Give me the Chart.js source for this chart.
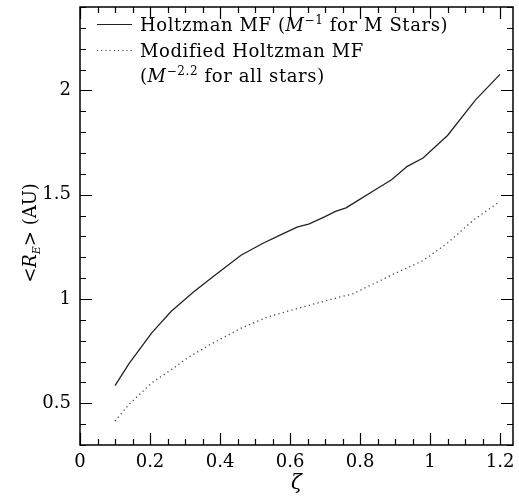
<!DOCTYPE html>
<html>
<head>
<meta charset="utf-8">
<script src="https://cdn.jsdelivr.net/npm/chart.js@4.4.0/dist/chart.umd.min.js"></script>
<style>
  html, body { margin: 0; padding: 0; background: #fff; }
</style>
</head>
<body>
<canvas id="myChart" width="519" height="496"></canvas>
<script>
// Einstein radius vs zeta, two mass functions
const zetaHoltzman = [0.10, 0.14, 0.205, 0.26, 0.325, 0.39, 0.46, 0.52, 0.57, 0.62, 0.655, 0.70, 0.73, 0.76, 0.79, 0.84, 0.89, 0.935, 0.98, 1.05, 1.13, 1.20];
const reHoltzman = [0.585, 0.69, 0.838, 0.94, 1.035, 1.12, 1.21, 1.265, 1.305, 1.345, 1.36, 1.395, 1.42, 1.437, 1.468, 1.52, 1.572, 1.636, 1.676, 1.784, 1.955, 2.077];

const zetaModified = [0.10, 0.14, 0.205, 0.26, 0.305, 0.37, 0.46, 0.53, 0.58, 0.655, 0.72, 0.78, 0.81, 0.86, 0.89, 0.98, 1.05, 1.125, 1.20];
const reModified = [0.415, 0.495, 0.598, 0.66, 0.715, 0.78, 0.86, 0.91, 0.935, 0.97, 1.0, 1.025, 1.05, 1.09, 1.115, 1.184, 1.268, 1.38, 1.468];

const xMajor = [0, 0.2, 0.4, 0.6, 0.8, 1, 1.2];
const xMinor = [0.05, 0.1, 0.15, 0.25, 0.3, 0.35, 0.45, 0.5, 0.55, 0.65, 0.7, 0.75, 0.85, 0.9, 0.95, 1.05, 1.1, 1.15];
const yMajor = [0.5, 1, 1.5, 2];
const yMinor = [0.3, 0.4, 0.6, 0.7, 0.8, 0.9, 1.1, 1.2, 1.3, 1.4, 1.6, 1.7, 1.8, 1.9, 2.1, 2.2, 2.3, 2.4];

const FONT = '"DejaVu Serif", serif';

const toPoints = (xs, ys) => xs.map((v, i) => ({ x: v, y: ys[i] }));

// draw a row of text pieces (normal / italic / superscript) and return the end x
function drawRuns(ctx, x, y, runs) {
  runs.forEach((r) => {
    ctx.font = r.font;
    ctx.fillText(r.t, x, y + (r.dy || 0));
    x += ctx.measureText(r.t).width;
  });
  return x;
}
function runsWidth(ctx, runs) {
  let w = 0;
  runs.forEach((r) => { ctx.font = r.font; w += ctx.measureText(r.t).width; });
  return w;
}

const normal = '18px ' + FONT;
const italic = 'italic 18px ' + FONT;
const sup = '12px ' + FONT;

const framePlugin = {
  id: 'frame',
  afterDraw(chart) {
    const { ctx, chartArea: a, scales: { x, y } } = chart;
    ctx.save();
    ctx.strokeStyle = '#000';
    ctx.lineWidth = 1.5;
    ctx.strokeRect(a.left, a.top, a.right - a.left, a.bottom - a.top);

    ctx.lineWidth = 1.2;
    ctx.beginPath();
    const tickX = (v, len) => {
      const px = Math.round(x.getPixelForValue(v)) + 0.5;
      ctx.moveTo(px, a.bottom); ctx.lineTo(px, a.bottom - len);
      ctx.moveTo(px, a.top); ctx.lineTo(px, a.top + len);
    };
    const tickY = (v, len) => {
      const py = Math.round(y.getPixelForValue(v)) + 0.5;
      ctx.moveTo(a.left, py); ctx.lineTo(a.left + len, py);
      ctx.moveTo(a.right, py); ctx.lineTo(a.right - len, py);
    };
    xMajor.forEach((v) => tickX(v, 12));
    xMinor.forEach((v) => tickX(v, 6));
    yMajor.forEach((v) => tickY(v, 12));
    yMinor.forEach((v) => tickY(v, 6));
    ctx.stroke();

    // legend
    ctx.fillStyle = '#000';
    ctx.textBaseline = 'alphabetic';
    ctx.letterSpacing = '0.6px';
    ctx.lineWidth = 1.2;
    ctx.strokeStyle = '#222';
    ctx.beginPath();
    ctx.moveTo(97, 24.5); ctx.lineTo(132, 24.5);
    ctx.stroke();
    ctx.setLineDash([1.2, 3]);
    ctx.strokeStyle = '#444';
    ctx.beginPath();
    ctx.moveTo(97, 50.5); ctx.lineTo(132, 50.5);
    ctx.stroke();
    ctx.setLineDash([]);

    drawRuns(ctx, 140, 31, [
      { t: 'Holtzman MF (', font: normal },
      { t: 'M', font: italic },
      { t: '\u22121', font: sup, dy: -7 },
      { t: ' for M Stars)', font: normal },
    ]);
    drawRuns(ctx, 140, 57, [{ t: 'Modified Holtzman MF', font: normal }]);
    drawRuns(ctx, 140, 82, [
      { t: '(', font: normal },
      { t: 'M', font: italic },
      { t: '\u22122.2', font: sup, dy: -7 },
      { t: ' for all stars)', font: normal },
    ]);
    ctx.letterSpacing = '0px';

    // x axis title
    ctx.font = 'italic 20px ' + FONT;
    ctx.textAlign = 'center';
    ctx.fillText('\u03B6', (a.left + a.right) / 2, 489);

    // y axis title
    ctx.textAlign = 'left';
    const yTitle = [
      { t: '<', font: normal },
      { t: 'R', font: italic },
      { t: 'E', font: 'italic 11px ' + FONT, dy: 4 },
      { t: '> (AU)', font: normal },
    ];
    ctx.translate(36, 233);
    ctx.rotate(-Math.PI / 2);
    drawRuns(ctx, -runsWidth(ctx, yTitle) / 2, 0, yTitle);
    ctx.restore();
  },
};

new Chart(document.getElementById('myChart'), {
  type: 'line',
  data: {
    datasets: [
      {
        label: 'Holtzman MF',
        data: toPoints(zetaHoltzman, reHoltzman),
        borderColor: '#222',
        borderWidth: 1.3,
        pointRadius: 0,
        tension: 0,
      },
      {
        label: 'Modified Holtzman MF',
        data: toPoints(zetaModified, reModified),
        borderColor: '#444',
        borderWidth: 1.3,
        borderDash: [1.2, 3.3],
        pointRadius: 0,
        tension: 0,
      },
    ],
  },
  options: {
    responsive: false,
    animation: false,
    layout: { padding: { top: 7, right: 6, left: 0, bottom: 0 } },
    scales: {
      x: {
        type: 'linear',
        min: 0,
        max: 1.237,
        afterBuildTicks: (s) => { s.ticks = xMajor.map((v) => ({ value: v })); },
        afterFit: (s) => { s.height = 51; s.paddingLeft = 0; s.paddingRight = 0; },
        grid: { display: false, drawTicks: false },
        border: { display: false },
        ticks: { color: '#000', padding: 7, font: { family: FONT, size: 18 }, maxRotation: 0, callback: (v) => String(v) },
      },
      y: {
        min: 0.3,
        max: 2.4,
        afterBuildTicks: (s) => { s.ticks = yMajor.map((v) => ({ value: v })); },
        afterFit: (s) => { s.width = 80; s.paddingTop = 0; s.paddingBottom = 0; },
        grid: { display: false, drawTicks: false },
        border: { display: false },
        ticks: { color: '#000', padding: 9, font: { family: FONT, size: 18 }, callback: (v) => String(v) },
      },
    },
    plugins: {
      legend: { display: false },
      tooltip: { enabled: false },
    },
  },
  plugins: [framePlugin],
});
</script>
</body>
</html>
